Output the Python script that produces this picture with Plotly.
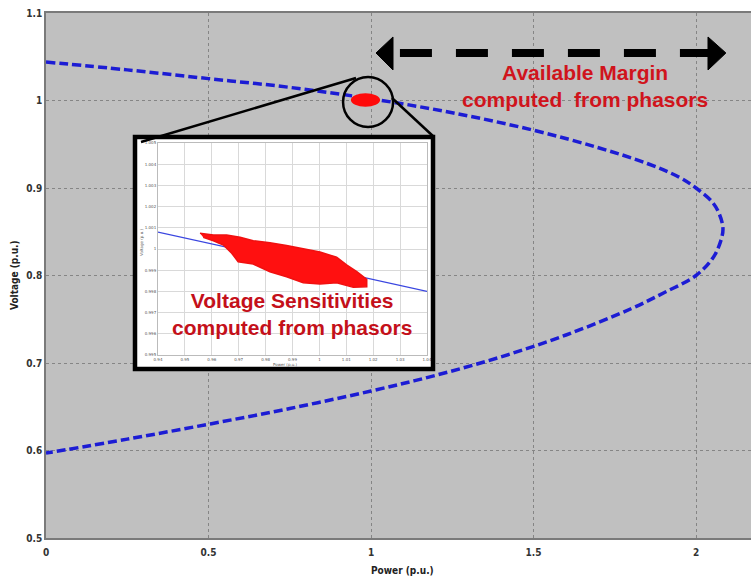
import plotly.graph_objects as go

# ---- PV nose curve: upper branch out to the nose, then lower branch back ----
power_pu = [0, 0.25, 0.5, 0.75, 1.0, 1.25, 1.5, 1.7, 1.85, 1.95, 2.0, 2.05, 2.072,
            2.083,
            2.072, 2.05, 2.0, 1.9, 1.8, 1.6, 1.4, 1.2, 1.0, 0.75, 0.5, 0.25, 0]
voltage_pu = [1.044, 1.035, 1.025, 1.015, 1.002, 0.986, 0.966, 0.946, 0.928, 0.912, 0.900, 0.884, 0.870,
              0.853,
              0.835, 0.819, 0.800, 0.780, 0.762, 0.732, 0.707, 0.686, 0.668, 0.648, 0.630, 0.613, 0.597]

main_xticks = [0, 0.5, 1, 1.5, 2]
main_xticktext = ["0", "0.5", "1", "1.5", "2"]
main_yticks = [0.5, 0.6, 0.7, 0.8, 0.9, 1.0, 1.1]
main_yticktext = ["0.5", "0.6", "0.7", "0.8", "0.9", "1", "1.1"]

# operating point cluster and the nose point
op_power, op_voltage = 0.983, 1.0006
circle_power, circle_voltage = 0.991, 0.9983
nose_power = 2.083

# ---- zoomed view: measured sensitivity points and fitted line ----
blob_power = [0.9556, 0.9606, 0.9655, 0.9705, 0.9754, 0.9816, 0.9878, 0.9940, 1.0002, 1.0064,
              1.0101, 1.0139, 1.0176, 1.0176, 1.0126, 1.0064, 1.0002, 0.9940, 0.9878, 0.9816,
              0.9754, 0.9698, 0.9674, 0.9643, 0.9606, 0.9568]
blob_voltage = [1.00074, 1.00066, 1.00066, 1.00055, 1.00039, 1.00030, 1.00017, 1.00003, 0.99986, 0.99961,
                0.99925, 0.99893, 0.99857, 0.99822, 0.99819, 0.99841, 0.99835, 0.99841, 0.99869, 0.99893,
                0.99929, 0.99940, 0.99980, 1.00019, 1.00039, 1.00055]
fit_power = [0.94, 1.04]
fit_voltage = [1.0008, 0.9980]

inset_xticks = [0.94, 0.95, 0.96, 0.97, 0.98, 0.99, 1.0, 1.01, 1.02, 1.03, 1.04]
inset_xticktext = ["0.94", "0.95", "0.96", "0.97", "0.98", "0.99", "1", "1.01", "1.02", "1.03", "1.04"]
inset_yticks = [0.995, 0.996, 0.997, 0.998, 0.999, 1.0, 1.001, 1.002, 1.003, 1.004, 1.005]
inset_yticktext = ["0.995", "0.996", "0.997", "0.998", "0.999", "1", "1.001", "1.002", "1.003", "1.004", "1.005"]

# ---- page geometry (pixels) ----
W, H = 751, 579
ML, MR, MT, MB = 46, 0, 13, 41
PW, PH = W - ML - MR, H - MT - MB


def px_x(x):
    return (x - ML) / PW


def px_y(y):
    return 1 - (y - MT) / PH


RED = "#d0141c"
TICK_FONT = dict(family="DejaVu Sans Condensed", size=10, color="#333333", weight="bold")

fig = go.Figure()

# main PV curve
fig.add_trace(go.Scatter(
    x=power_pu, y=voltage_pu, mode="lines",
    line=dict(color="#1c1cd4", width=3.5, dash="9px,4px", shape="spline", smoothing=1.0),
    hoverinfo="skip", showlegend=False, xaxis="x", yaxis="y"))

# white card behind the zoomed view
fig.add_trace(go.Scatter(
    x=[0, 1, 1, 0, 0], y=[0, 0, 1, 1, 0], mode="lines", fill="toself",
    fillcolor="white", line=dict(width=0, color="white"),
    hoverinfo="skip", showlegend=False, xaxis="x2", yaxis="y2"))

# zoomed view: fitted sensitivity line and measured cloud
fig.add_trace(go.Scatter(
    x=fit_power, y=fit_voltage, mode="lines",
    line=dict(color="#3a46e0", width=1.2),
    hoverinfo="skip", showlegend=False, xaxis="x3", yaxis="y3"))
fig.add_trace(go.Scatter(
    x=blob_power, y=blob_voltage, mode="lines", fill="toself",
    fillcolor="#ff1010", line=dict(color="#f01010", width=1.5),
    hoverinfo="skip", showlegend=False, xaxis="x3", yaxis="y3"))

card = dict(x0=px_x(135), x1=px_x(433), y0=px_y(369), y1=px_y(137))

shapes = [
    # grey plotting area of the main chart (sits under the gridlines)
    dict(type="rect", xref="paper", yref="paper", x0=0, x1=1, y0=0, y1=1,
         fillcolor="#c0c0c0", line=dict(width=0), layer="below"),
    # red operating-point cluster on the main curve
    dict(type="circle", xref="x", yref="y",
         x0=op_power - 0.045, x1=op_power + 0.045,
         y0=op_voltage - 0.0078, y1=op_voltage + 0.0078,
         fillcolor="#ff0a0a", line=dict(color="#ff0a0a", width=0), layer="above"),
    # magnifier circle
    dict(type="circle", xref="x", yref="y",
         x0=circle_power - 0.077, x1=circle_power + 0.077,
         y0=circle_voltage - 0.0286, y1=circle_voltage + 0.0286,
         line=dict(color="black", width=2.5), layer="above"),
    # lines from the magnifier down to the card
    dict(type="line", xref="paper", yref="paper",
         x0=px_x(141), y0=px_y(142), x1=px_x(356), y1=px_y(78),
         line=dict(color="black", width=2.5), layer="above"),
    dict(type="line", xref="paper", yref="paper",
         x0=px_x(392), y0=px_y(98), x1=px_x(434), y1=px_y(137),
         line=dict(color="black", width=2.5), layer="above"),
    # card border
    dict(type="rect", xref="paper", yref="paper", **card,
         line=dict(color="black", width=4.5), layer="above"),
    # available-margin arrow: dashed shaft and two heads
    dict(type="line", xref="x", yref="y",
         x0=1.089, x1=2.049, y0=1.0543, y1=1.0543,
         line=dict(color="black", width=8, dash="32px,24px"), layer="above"),
    dict(type="path", xref="x", yref="y",
         path="M 1.0154,1.0543 L 1.0677,1.0726 L 1.0677,1.0349 Z",
         fillcolor="black", line=dict(color="black", width=1), layer="above"),
    dict(type="path", xref="x", yref="y",
         path=f"M {nose_power + 0.009},1.0543 L 2.0369,1.0726 L 2.0369,1.0349 Z",
         fillcolor="black", line=dict(color="black", width=1), layer="above"),
]

TEXT_FONT = dict(family="Liberation Sans", size=21, color=RED, weight="bold")
ann_objs = [
    dict(text="Available Margin<br>computed\u00a0 from phasors", xref="paper", yref="paper",
         x=px_x(585), y=px_y(86), showarrow=False, xanchor="center", yanchor="middle",
         font=TEXT_FONT),
    dict(text="Voltage Sensitivities<br>computed from phasors", xref="paper", yref="paper",
         x=px_x(292), y=px_y(314), showarrow=False, xanchor="center", yanchor="middle",
         font=dict(TEXT_FONT, color="#c4101a")),
]

# axis titles
AXIS_TITLE_FONT = dict(family="DejaVu Sans Condensed", size=10, color="#222222", weight="bold")
ann_objs.append(dict(text="Voltage (p.u.)", xref="paper", yref="paper",
                     x=px_x(14), y=px_y(275), textangle=-90, showarrow=False,
                     xanchor="center", yanchor="middle", font=AXIS_TITLE_FONT))
ann_objs.append(dict(text="Power (p.u.)", xref="paper", yref="paper",
                     x=px_x(403), y=px_y(570), showarrow=False,
                     xanchor="center", yanchor="middle", font=AXIS_TITLE_FONT))
# zoomed view axis titles
INSET_TITLE_FONT = dict(family="DejaVu Sans", size=4, color="#555555")
ann_objs.append(dict(text="Voltage (p.u.)", xref="paper", yref="paper",
                     x=px_x(141), y=px_y(243), textangle=-90, showarrow=False,
                     xanchor="center", yanchor="middle", font=INSET_TITLE_FONT))
ann_objs.append(dict(text="Power (p.u.)", xref="paper", yref="paper",
                     x=px_x(285), y=px_y(364), showarrow=False,
                     xanchor="center", yanchor="middle", font=INSET_TITLE_FONT))

INSET_TICK_FONT = dict(family="DejaVu Sans", size=4, color="#555555")

fig.update_layout(
    width=W, height=H,
    margin=dict(l=ML, r=MR, t=MT, b=MB, pad=0),
    paper_bgcolor="white",
    plot_bgcolor="white",
    showlegend=False,
    xaxis=dict(range=[0, PW / 325.0], tickvals=main_xticks, ticktext=main_xticktext,
               showgrid=True, gridcolor="#858585", griddash="dot", gridwidth=1,
               zeroline=False, showline=True, linecolor="#7a7a7a", linewidth=1.5, mirror=True,
               ticks="", tickfont=TICK_FONT, ticklabelstandoff=4, automargin=False, domain=[0, 1]),
    yaxis=dict(range=[0.5, 1.1], tickvals=main_yticks, ticktext=main_yticktext,
               showgrid=True, gridcolor="#858585", griddash="dot", gridwidth=1,
               zeroline=False, showline=True, linecolor="#7a7a7a", linewidth=1.5, mirror=True,
               ticks="", tickfont=TICK_FONT, automargin=False, domain=[0, 1]),
    xaxis2=dict(domain=[card["x0"], card["x1"]], range=[0, 1], anchor="y2",
                visible=False, fixedrange=True),
    yaxis2=dict(domain=[card["y0"], card["y1"]], range=[0, 1], anchor="x2",
                visible=False, fixedrange=True),
    xaxis3=dict(domain=[px_x(158), px_x(427)], range=[0.94, 1.04], anchor="y3",
                tickvals=inset_xticks, ticktext=inset_xticktext, tickfont=INSET_TICK_FONT,
                showgrid=True, gridcolor="#d9d9d9", gridwidth=1, zeroline=False,
                showline=True, linecolor="#bbbbbb", linewidth=1, mirror=True,
                ticks="", automargin=False),
    yaxis3=dict(domain=[px_y(355), px_y(143)], range=[0.995, 1.005], anchor="x3",
                tickvals=inset_yticks, ticktext=inset_yticktext, tickfont=INSET_TICK_FONT,
                showgrid=True, gridcolor="#d9d9d9", gridwidth=1, zeroline=False,
                showline=True, linecolor="#bbbbbb", linewidth=1, mirror=True,
                ticks="", automargin=False),
    shapes=shapes,
    annotations=ann_objs,
)

fig.write_html("out.html")
